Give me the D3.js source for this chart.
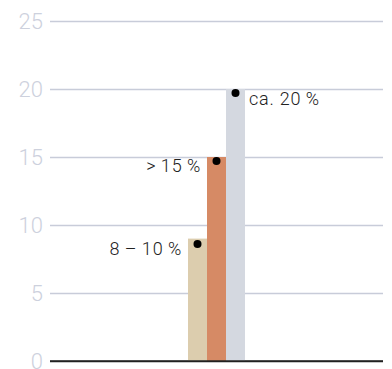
<!DOCTYPE html>
<html>
<head>
<meta charset="utf-8">
<script src="https://cdn.jsdelivr.net/npm/d3@7"></script>
<style>
  body { margin: 0; background: #fff; }
  text { font-family: Roboto, "Noto Sans", sans-serif; font-weight: 300; }
</style>
</head>
<body>
<div id="chart-area"></div>
<script>
// data
const categories = ["low", "mid", "high"]
const barValues = [9, 15, 20]
const dotValues = [8.6, 14.7, 19.7]
const labels = ["8\u2009–\u200910\u2009%", ">\u200915\u2009%", "ca. 20\u2009%"]
const colors = ["#dccdae", "#d68a65", "#d4d8e0"]
const yTicks = [0, 5, 10, 15, 20, 25]

const W = 392, H = 369
const MARGIN = { LEFT: 50, RIGHT: 9, TOP: 21, BOTTOM: 8 }

const svg = d3.select("#chart-area").append("svg")
  .attr("width", W)
  .attr("height", H)

const y = d3.scaleLinear().domain([0, 25]).range([H - MARGIN.BOTTOM, MARGIN.TOP])
const x = d3.scaleBand().domain(categories).range([188, 245]).padding(0)

// grid lines + tick labels
const yAxis = svg.append("g")
  .attr("transform", `translate(${MARGIN.LEFT}, 0)`)
  .call(d3.axisLeft(y).tickValues(yTicks).tickSize(-(W - MARGIN.LEFT - MARGIN.RIGHT)).tickPadding(7))
yAxis.select(".domain").remove()
yAxis.selectAll(".tick line")
  .attr("stroke", d => d === 0 ? "#222" : "#c8ccd9")
  .attr("stroke-width", 1.5)
yAxis.selectAll(".tick text")
  .attr("fill", "#cdd1dd")
  .attr("font-size", 22)

// bars
svg.append("g").selectAll("rect")
  .data(barValues)
  .join("rect")
  .attr("x", (d, i) => x(categories[i]))
  .attr("width", x.bandwidth())
  .attr("y", d => y(d))
  .attr("height", d => y(0) - y(d))
  .attr("fill", (d, i) => colors[i])

// redraw baseline on top of bars
svg.append("line")
  .attr("x1", MARGIN.LEFT).attr("x2", W - MARGIN.RIGHT)
  .attr("y1", y(0)).attr("y2", y(0))
  .attr("stroke", "#222").attr("stroke-width", 1.5)

// dots
svg.append("g").selectAll("circle")
  .data(dotValues)
  .join("circle")
  .attr("cx", (d, i) => x(categories[i]) + x.bandwidth() / 2)
  .attr("cy", d => y(d))
  .attr("r", 4)
  .attr("fill", "#000")

// value labels
svg.append("g").selectAll("text")
  .data(labels)
  .join("text")
  .attr("x", (d, i) => i === 2 ? x(categories[i]) + x.bandwidth() + 4 : x(categories[i]) - 6)
  .attr("y", (d, i) => y(dotValues[i]) + (i === 2 ? 12 : 11))
  .attr("text-anchor", (d, i) => i === 2 ? "start" : "end")
  .attr("fill", "#222")
  .attr("font-size", 18)
  .attr("letter-spacing", 0.8)
  .text(d => d)
</script>
</body>
</html>
